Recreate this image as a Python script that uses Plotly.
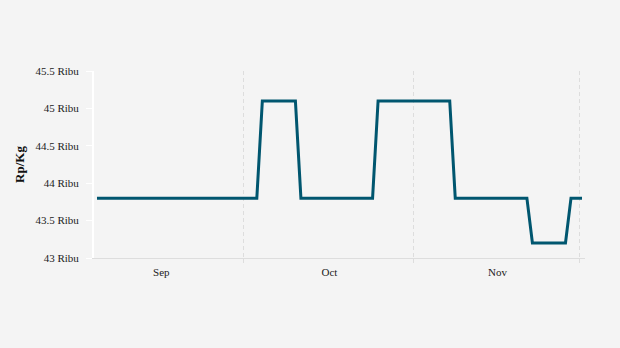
import plotly.graph_objects as go

dates = ["2023-09-04 12:00", "2023-10-03 12:00", "2023-10-04 12:00", "2023-10-10 12:00",
         "2023-10-11 12:00", "2023-10-24 12:00", "2023-10-25 12:00", "2023-11-07 12:00",
         "2023-11-08 12:00", "2023-11-21 12:00", "2023-11-22 12:00", "2023-11-28 12:00",
         "2023-11-29 12:00", "2023-12-01 12:00"]
prices = [43.8, 43.8, 45.1, 45.1, 43.8, 43.8, 45.1, 45.1, 43.8, 43.8, 43.2, 43.2, 43.8, 43.8]

y_ticks = [43, 43.5, 44, 44.5, 45, 45.5]
y_ticktext = ["43 Ribu", "43.5 Ribu", "44 Ribu", "44.5 Ribu", "45 Ribu", "45.5 Ribu"]

fig = go.Figure(go.Scatter(
    x=dates, y=prices, mode="lines",
    line=dict(color="#00566f", width=3),
    hoverinfo="x+y",
))

font_family = "Liberation Serif"
fig.update_layout(
    width=620, height=348,
    margin=dict(l=94, r=35, t=71, b=90),
    paper_bgcolor="#f4f4f4", plot_bgcolor="#f4f4f4",
    font=dict(family=font_family, size=11, color="#333333"),
    showlegend=False,
)
fig.update_xaxes(
    type="date",
    range=["2023-09-03 23:00", "2023-12-02 01:00"],
    dtick="M1", tick0="2023-09-01", tickformat="%b", ticklabelmode="period",
    ticklabelshift=1,
    showgrid=True, gridcolor="#dddddd", griddash="4px,3px", gridwidth=1,
    ticks="outside", ticklen=4, tickcolor="#dddddd",
    showline=True, linecolor="#dddddd", linewidth=1,
    zeroline=False,
    tickfont=dict(family=font_family, size=11, color="#222222"),
)
fig.update_yaxes(
    range=[43, 45.5],
    tickvals=y_ticks, ticktext=y_ticktext,
    showgrid=False, zeroline=False,
    showline=True, linecolor="#ffffff", linewidth=2,
    ticks="outside", ticklen=6, tickcolor="#ffffff", tickwidth=1,
    ticklabelstandoff=5,
    tickfont=dict(family=font_family, size=11, color="#222222"),
    title=dict(text="<b>Rp/Kg</b>", font=dict(family=font_family, size=13, color="#111111"), standoff=8),
)
fig.write_html("out.html")
